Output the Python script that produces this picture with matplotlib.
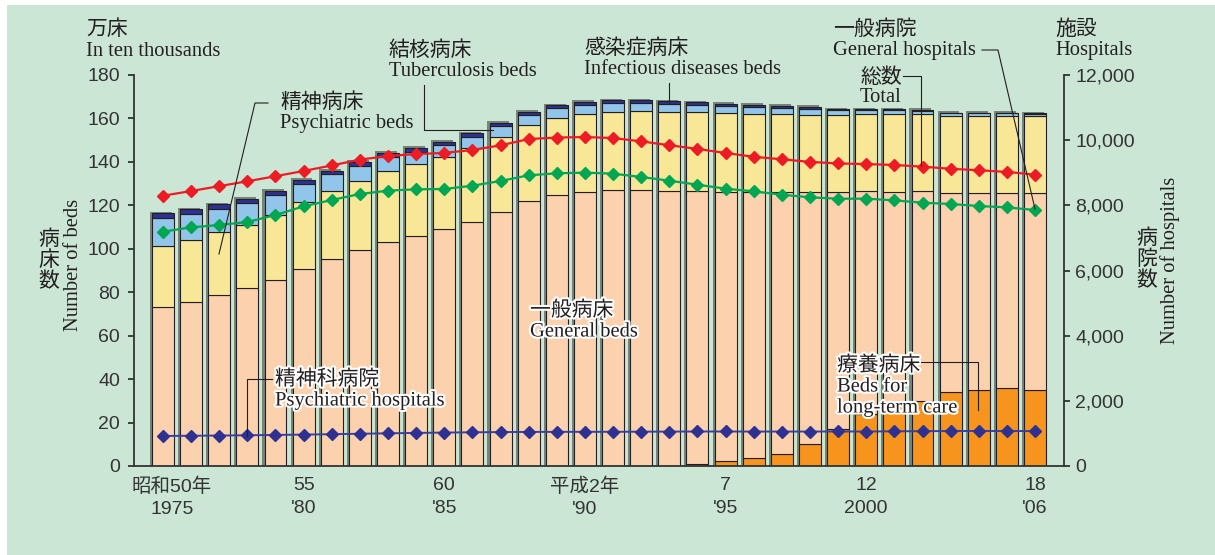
import numpy as np
import matplotlib
matplotlib.use("Agg")
import matplotlib.pyplot as plt
from matplotlib.lines import Line2D
from matplotlib.patches import Rectangle
import matplotlib.patheffects as pe
from matplotlib.transforms import ScaledTranslation

# --- data (beds in ten thousands, hospitals in units) ---
years = list(range(1975, 2007))

longterm_beds = [0, 0, 0, 0, 0, 0, 0, 0, 0, 0, 0, 0, 0, 0, 0, 0,
                 0, 0, 0, 1.0, 2.3, 3.8, 5.5, 10.0, 16.9, 24.0, 27.0, 30.1, 34.2, 34.8, 35.8, 34.8]
general_beds = [73.3, 75.6, 78.6, 81.8, 85.6, 90.6, 95.2, 99.4, 103.1, 106.0, 109.0, 112.5,
                116.8, 121.9, 124.6, 126.0, 126.9, 127.1, 126.7, 125.6, 123.7, 122.2, 120.5, 116.2,
                109.1, 102.5, 99.3, 96.5, 91.6, 91.0, 90.0, 91.0]
psych_beds = [27.8, 28.3, 29.0, 29.2, 30.0, 30.8, 31.4, 31.8, 32.7, 32.9, 33.2, 34.1,
              34.8, 35.2, 35.5, 35.9, 36.1, 36.3, 36.3, 36.2, 36.4, 36.1, 35.9, 35.2,
              35.6, 35.4, 35.6, 35.3, 35.3, 35.3, 35.5, 35.2]
tb_beds = [12.9, 12.1, 10.7, 9.9, 9.0, 8.3, 7.7, 7.1, 6.6, 5.8, 5.6, 4.9,
           4.9, 4.5, 4.6, 4.3, 4.0, 3.6, 3.5, 3.3, 3.2, 3.0, 2.8, 2.8,
           2.3, 2.0, 2.0, 1.7, 1.2, 1.2, 1.1, 1.0]
infect_beds = [2.3, 2.2, 2.2, 2.2, 2.2, 2.0, 1.7, 1.7, 1.7, 1.7, 1.5, 1.7,
               1.6, 1.5, 1.4, 1.4, 1.4, 1.4, 1.4, 1.4, 1.1, 1.1, 1.2, 1.2,
               0.4, 0.4, 0.4, 0.4, 0.3, 0.3, 0.3, 0.3]

total_hosp = [8294, 8439, 8589, 8738, 8894, 9055, 9224, 9403, 9515, 9574, 9608, 9699,
              9841, 10034, 10081, 10096, 10066, 9963, 9844, 9731, 9606, 9490, 9413, 9333,
              9286, 9266, 9239, 9187, 9122, 9077, 9026, 8943]
general_hosp = [7191, 7325, 7396, 7488, 7703, 7970, 8164, 8348, 8450, 8492, 8501, 8603,
                8747, 8921, 8983, 9003, 8972, 8870, 8757, 8634, 8511, 8429, 8327, 8245,
                8204, 8204, 8153, 8082, 8041, 7979, 7938, 7856]
psych_hosp = [922, 928, 935, 943, 953, 964, 976, 990, 1003, 1015, 1026, 1034,
              1041, 1046, 1048, 1049, 1050, 1053, 1056, 1059, 1059, 1057, 1057, 1058,
              1060, 1058, 1065, 1069, 1073, 1076, 1073, 1072]

tick_years = [1975, 1980, 1985, 1990, 1995, 2000, 2006]
tick_labels = ["昭和50年\n1975", "55\n'80", "60\n'85", "平成2年\n'90", "7\n'95", "12\n2000", "18\n'06"]

# --- style ---
W, H = 1215, 555
BG = '#cbe6d5'
TXT = '#231f20'
JP = 'Noto Sans CJK JP'
SERIF = 'Liberation Serif'
NUM = ['Liberation Sans', 'Noto Sans CJK JP']

def px(x, y):
    return (x / W, 1 - y / H)

fig = plt.figure(figsize=(W / 100, H / 100), dpi=100)
fig.patch.set_facecolor('white')
fig.add_artist(Rectangle((7 / W, 0), 1, 1 - 5 / H, transform=fig.transFigure,
                         facecolor=BG, edgecolor='none', zorder=-10))

ax = fig.add_axes([134 / W, 89 / H, 930 / W, 391 / H])
ax.set_facecolor('none')

x = np.arange(len(years))
w = 0.78
segments = [
    (longterm_beds, '#f7941d'),
    (general_beds, '#fcd1ae'),
    (psych_beds, '#f7e796'),
    (tb_beds, '#92c5ea'),
    (infect_beds, '#2e3192'),
]
totals = np.sum([s for s, _ in segments], axis=0)

# drop shadow behind each bar
ax.bar(x - 0.075, totals + 0.7, w, color='#76857a', edgecolor='none', zorder=1)

bottom = np.zeros(len(years))
for vals, col in segments:
    vals = np.array(vals)
    ax.bar(x, vals, w, bottom=bottom, color=col, edgecolor=TXT, linewidth=0.8, zorder=2)
    bottom += vals

ax.set_xlim(-1.03, 32.03)
ax.set_ylim(0, 180)
ax.set_yticks(range(0, 181, 20))
for s in ['top', 'right']:
    ax.spines[s].set_visible(False)
for s in ['left', 'bottom']:
    ax.spines[s].set_color('#333333')
    ax.spines[s].set_linewidth(1.3)
ax.tick_params(axis='y', direction='out', length=4, width=1.3, color='#333333',
               labelsize=14, labelcolor='#333333', pad=6)
ax.set_xticks([years.index(t) for t in tick_years])
ax.set_xticklabels(tick_labels, family=NUM, fontsize=14, color='#333333', linespacing=1.45)
ax.tick_params(axis='x', length=0, pad=8)
for lab in ax.get_yticklabels():
    lab.set_family(NUM)
first = ax.get_xticklabels()[0]
first.set_transform(first.get_transform() + ScaledTranslation(0.09, 0, fig.dpi_scale_trans))

ax2 = ax.twinx()
ax2.set_ylim(0, 12000)
ax2.set_yticks(range(0, 12001, 2000))
ax2.set_yticklabels([f'{v:,}' for v in range(0, 12001, 2000)], family=NUM)
for s in ['top', 'left', 'bottom']:
    ax2.spines[s].set_visible(False)
ax2.spines['right'].set_color('#333333')
ax2.spines['right'].set_linewidth(1.3)
ax2.tick_params(axis='y', direction='out', length=4, width=1.3, color='#333333',
                labelsize=14, labelcolor='#333333', pad=4)

ax2.plot(x, total_hosp, color='#ed1c24', lw=1.6, marker='D', ms=6.3, zorder=5)
ax2.plot(x, general_hosp, color='#00a651', lw=1.6, marker='D', ms=6.3, zorder=5)
ax2.plot(x, psych_hosp, color='#3a3f9c', lw=1.4, marker='D', ms=6.0,
         mfc='#2e3192', mec='#2e3192', zorder=5)

# --- text ---
def ftext(xp, yp, s, font, size, halo=False, **kw):
    t = fig.text(*px(xp, yp), s, family=font, fontsize=size, color=TXT,
                 va='center', ha='left', **kw)
    if halo:
        t.set_path_effects([pe.withStroke(linewidth=3, foreground='white')])
    return t

JS, ES = 15, 14.8
ftext(86, 29, '万床', JP, JS)
ftext(86, 51, 'In ten thousands', SERIF, ES)
ftext(1055, 29, '施設', JP, JS)
ftext(1055, 50, 'Hospitals', SERIF, ES)
ftext(280, 102, '精神病床', JP, JS)
ftext(280, 124, 'Psychiatric beds', SERIF, ES)
ftext(389, 50, '結核病床', JP, JS)
ftext(389, 72, 'Tuberculosis beds', SERIF, ES)
ftext(584, 48, '感染症病床', JP, JS)
ftext(584, 70, 'Infectious diseases beds', SERIF, ES)
ftext(833, 29, '一般病院', JP, JS)
ftext(833, 50, 'General hospitals', SERIF, ES)
ftext(860, 77, '総数', JP, JS)
ftext(860, 98, 'Total', SERIF, ES)
ftext(530, 310, '一般病床', JP, JS, halo=True)
ftext(530, 332, 'General beds', SERIF, ES, halo=True)
ftext(275, 379, '精神科病院', JP, JS, halo=True)
ftext(275, 401, 'Psychiatric hospitals', SERIF, ES, halo=True)
ftext(837, 365, '療養病床', JP, JS, halo=True)
ftext(837, 387, 'Beds for', SERIF, ES, halo=True)
ftext(837, 408, 'long-term care', SERIF, ES, halo=True)

fig.text(*px(49, 260), '病\n床\n数', family=JP, fontsize=JS, color=TXT,
         ha='center', va='center', linespacing=0.95)
fig.text(*px(73, 265), 'Number of beds', family=SERIF, fontsize=ES, color=TXT,
         ha='center', va='center', rotation=90)
fig.text(*px(1147, 259), '病\n院\n数', family=JP, fontsize=JS, color=TXT,
         ha='center', va='center', linespacing=0.95)
fig.text(*px(1170, 260), 'Number of hospitals', family=SERIF, fontsize=ES, color=TXT,
         ha='center', va='center', rotation=90)

# --- leader lines ---
leaders = [
    [(268, 103), (255, 103), (219, 254)],
    [(424, 85), (424, 130), (493, 130)],
    [(669, 83), (669, 103)],
    [(982, 50), (998, 50), (1035, 209)],
    [(903, 76), (921, 76), (921, 166)],
    [(272, 379), (247, 379), (247, 436)],
    [(921, 362), (978, 362), (978, 410)],
]
for pts in leaders:
    fx = [px(a, b)[0] for a, b in pts]
    fy = [px(a, b)[1] for a, b in pts]
    fig.add_artist(Line2D(fx, fy, transform=fig.transFigure, color=TXT, lw=0.8, zorder=20))

fig.savefig('out.png', dpi=100)
